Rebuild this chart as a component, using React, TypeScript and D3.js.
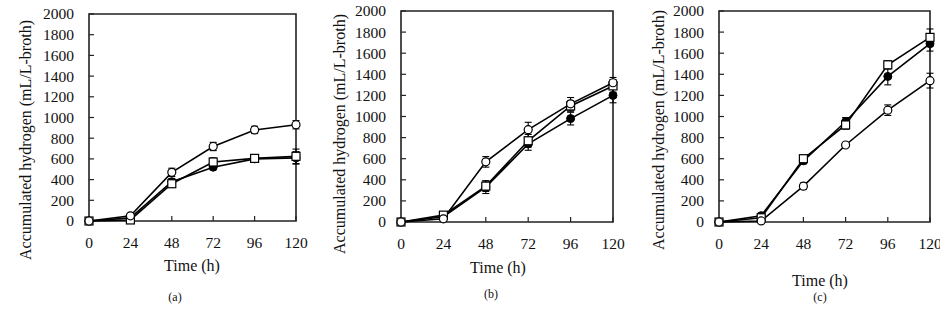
import React from "react";
import * as d3 from "d3";

const times = [0, 24, 48, 72, 96, 120];
const yTicks = [0, 200, 400, 600, 800, 1000, 1200, 1400, 1600, 1800, 2000];
const xTicks = [0, 24, 48, 72, 96, 120];

// Panel (a)
const aFilled = [0, 30, 380, 520, 600, 610];
const aFilledErr = [0, 10, 30, 20, 20, 60];
const aSquare = [0, 10, 360, 570, 605, 625];
const aSquareErr = [0, 10, 25, 40, 25, 70];
const aOpen = [0, 50, 470, 720, 880, 930];
const aOpenErr = [0, 15, 40, 40, 35, 40];

// Panel (b)
const bFilled = [0, 50, 330, 740, 980, 1200];
const bFilledErr = [0, 10, 60, 60, 60, 70];
const bSquare = [0, 65, 340, 770, 1100, 1290];
const bSquareErr = [0, 10, 50, 60, 50, 60];
const bOpen = [0, 30, 570, 875, 1120, 1320];
const bOpenErr = [0, 10, 50, 70, 60, 50];

// Panel (c)
const cFilled = [0, 60, 580, 950, 1380, 1690];
const cFilledErr = [0, 10, 30, 40, 80, 70];
const cSquare = [0, 40, 600, 920, 1490, 1750];
const cSquareErr = [0, 10, 30, 40, 40, 80];
const cOpen = [0, 10, 340, 730, 1060, 1340];
const cOpenErr = [0, 5, 30, 20, 50, 70];

const yLabel = "Accumulated hydrogen (mL/L-broth)";
const xLabel = "Time (h)";

type Series = { kind: "filled" | "square" | "open"; values: number[]; err: number[] };

type PanelCfg = {
  x0: number; x1: number; yTop: number; yBot: number;
  yLabelX: number; yLabelY: number;
  xTitleX: number; xTitleY: number;
  subX: number; subY: number; sub: string;
  series: Series[];
};

const panels: PanelCfg[] = [
  {
    x0: 89, x1: 296, yTop: 14, yBot: 221,
    yLabelX: 25, yLabelY: 140, xTitleX: 192, xTitleY: 271,
    subX: 175, subY: 301, sub: "(a)",
    series: [
      { kind: "filled", values: aFilled, err: aFilledErr },
      { kind: "square", values: aSquare, err: aSquareErr },
      { kind: "open", values: aOpen, err: aOpenErr },
    ],
  },
  {
    x0: 401, x1: 613, yTop: 11, yBot: 222,
    yLabelX: 339, yLabelY: 134, xTitleX: 498, xTitleY: 273,
    subX: 491, subY: 298, sub: "(b)",
    series: [
      { kind: "filled", values: bFilled, err: bFilledErr },
      { kind: "square", values: bSquare, err: bSquareErr },
      { kind: "open", values: bOpen, err: bOpenErr },
    ],
  },
  {
    x0: 719, x1: 930, yTop: 11, yBot: 222,
    yLabelX: 658, yLabelY: 130, xTitleX: 820, xTitleY: 286,
    subX: 820, subY: 301, sub: "(c)",
    series: [
      { kind: "filled", values: cFilled, err: cFilledErr },
      { kind: "square", values: cSquare, err: cSquareErr },
      { kind: "open", values: cOpen, err: cOpenErr },
    ],
  },
];

const FONT = '"Liberation Serif", "DejaVu Serif", serif';

function Panel({ cfg }: { cfg: PanelCfg }) {
  const x = d3.scaleLinear().domain([0, 120]).range([cfg.x0, cfg.x1]);
  const y = d3.scaleLinear().domain([0, 2000]).range([cfg.yBot, cfg.yTop]);
  const line = d3.line<number>().x((_, i) => x(times[i])).y((d) => y(d));
  const tickLen = 5;
  return (
    <g>
      <path
        d={`M${cfg.x0},${cfg.yBot} L${cfg.x0},${cfg.yTop} L${cfg.x1},${cfg.yTop} L${cfg.x1},${cfg.yBot} Z`}
        fill="none" stroke="#222" strokeWidth={1.6}
      />
      {yTicks.map((t) => (
        <g key={"y" + t}>
          <line x1={cfg.x0} x2={cfg.x0 + tickLen} y1={y(t)} y2={y(t)} stroke="#222" strokeWidth={1.2} />
          <text x={cfg.x0 - 15} y={y(t)} dy="0.35em" textAnchor="end" fontSize={15.5} fill="#111">{t}</text>
        </g>
      ))}
      {xTicks.map((t) => (
        <g key={"x" + t}>
          <line x1={x(t)} x2={x(t)} y1={cfg.yBot} y2={cfg.yBot - tickLen} stroke="#222" strokeWidth={1.2} />
          <text x={x(t)} y={cfg.yBot + 27} textAnchor="middle" fontSize={15.5} fill="#111">{t}</text>
        </g>
      ))}
      <text transform={`translate(${cfg.yLabelX},${cfg.yLabelY}) rotate(-90)`} textAnchor="middle" dy="0.35em"
        fontSize={16} fill="#111">{yLabel}</text>
      <text x={cfg.xTitleX} y={cfg.xTitleY} textAnchor="middle" fontSize={16} fill="#111">{xLabel}</text>
      <text x={cfg.subX} y={cfg.subY} textAnchor="middle" fontSize={12} fill="#111">{cfg.sub}</text>
      {cfg.series.map((s, si) => (
        <path key={"l" + si} d={line(s.values) || ""} fill="none" stroke="#000" strokeWidth={1.6} />
      ))}
      {cfg.series.map((s, si) =>
        s.values.map((v, i) =>
          s.err[i] > 6 ? (
            <g key={`e${si}-${i}`} stroke="#000" strokeWidth={1.1}>
              <line x1={x(times[i])} x2={x(times[i])} y1={y(v - s.err[i])} y2={y(v + s.err[i])} />
              <line x1={x(times[i]) - 3.5} x2={x(times[i]) + 3.5} y1={y(v - s.err[i])} y2={y(v - s.err[i])} />
              <line x1={x(times[i]) - 3.5} x2={x(times[i]) + 3.5} y1={y(v + s.err[i])} y2={y(v + s.err[i])} />
            </g>
          ) : null
        )
      )}
      {cfg.series.map((s, si) =>
        s.values.map((v, i) => {
          const cx = x(times[i]);
          const cy = y(v);
          if (s.kind === "square")
            return <rect key={`m${si}-${i}`} x={cx - 4} y={cy - 4} width={8} height={8} fill="#fff" stroke="#000" strokeWidth={1.2} />;
          if (s.kind === "filled")
            return <circle key={`m${si}-${i}`} cx={cx} cy={cy} r={4} fill="#000" stroke="#000" strokeWidth={1} />;
          return <circle key={`m${si}-${i}`} cx={cx} cy={cy} r={4} fill="#fff" stroke="#000" strokeWidth={1.2} />;
        })
      )}
    </g>
  );
}

export default function App() {
  return (
    <svg width={940} height={316} fontFamily={FONT}
      style={{ position: "absolute", left: 0, top: 0, background: "#fff", fontFamily: FONT }}>
      <rect x={0} y={0} width={940} height={316} fill="#fff" />
      {panels.map((p, i) => (
        <Panel key={i} cfg={p} />
      ))}
    </svg>
  );
}
